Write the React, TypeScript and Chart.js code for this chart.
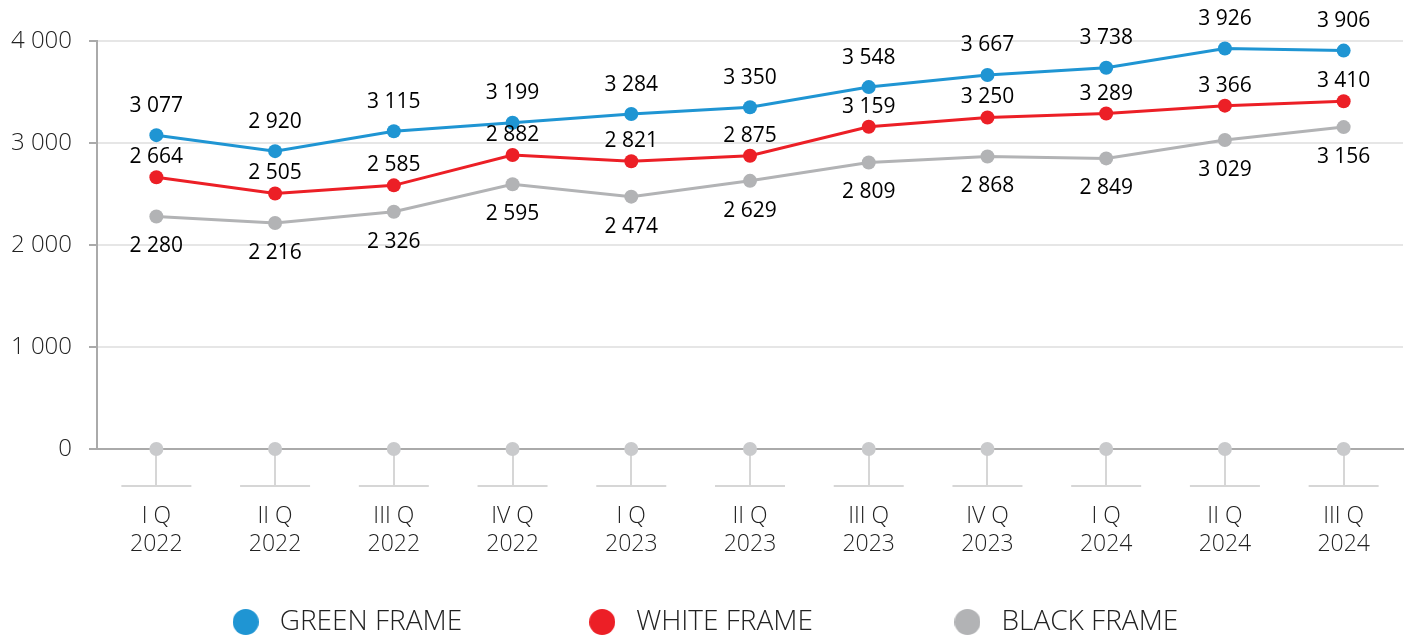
import React, { useEffect, useRef } from 'react';
import { Chart, registerables } from 'chart.js';

Chart.register(...registerables);

const quarterLabels: string[][] = [
  ['I Q', '2022'], ['II Q', '2022'], ['III Q', '2022'], ['IV Q', '2022'],
  ['I Q', '2023'], ['II Q', '2023'], ['III Q', '2023'], ['IV Q', '2023'],
  ['I Q', '2024'], ['II Q', '2024'], ['III Q', '2024'],
];
const greenFrame = [3077, 2920, 3115, 3199, 3284, 3350, 3548, 3667, 3738, 3926, 3906];
const whiteFrame = [2664, 2505, 2585, 2882, 2821, 2875, 3159, 3250, 3289, 3366, 3410];
const blackFrame = [2280, 2216, 2326, 2595, 2474, 2629, 2809, 2868, 2849, 3029, 3156];
const baseline = [0, 0, 0, 0, 0, 0, 0, 0, 0, 0, 0];
const seriesNames = ['GREEN FRAME', 'WHITE FRAME', 'BLACK FRAME'];
const yMin = 0;
const yMax = 4000;
const yStep = 1000;

const colors = ['#1f95d3', '#ec1f26', '#b2b3b5'];
const baseDotColor = '#c9cacc';
const labelOffsets = [-29.5, -20, 30];
const FONT = "'Open Sans', 'Noto Sans', sans-serif";
const LEGEND_FONT_SIZE = 28;
const LEGEND_PADDING = 40;
const LEGEND_BOX = 40;
const LEGEND_STEPS = [358, 366];

const fmt = (v: number) => String(v).replace(/\B(?=(\d{3})+(?!\d))/g, ' ');

function circleImage(color: string, d: number) {
  const c = document.createElement('canvas');
  c.width = d;
  c.height = d;
  const ctx = c.getContext('2d')!;
  ctx.fillStyle = color;
  ctx.beginPath();
  ctx.arc(d / 2, d / 2, d / 2, 0, Math.PI * 2);
  ctx.fill();
  return c;
}

const stemPlugin = {
  id: 'stems',
  afterDraw(chart: any) {
    const { ctx, chartArea, scales } = chart;
    const x = scales.x;
    const y0 = chartArea.bottom + 37;
    ctx.save();
    ctx.strokeStyle = '#d6d6d6';
    ctx.lineWidth = 2;
    for (let i = 0; i < quarterLabels.length; i++) {
      const px = x.getPixelForValue(i);
      ctx.beginPath();
      ctx.moveTo(px - 35, y0);
      ctx.lineTo(px + 35, y0);
      ctx.stroke();
    }
    ctx.restore();
  },
};

const valueLabelPlugin = {
  id: 'valueLabels',
  afterDatasetsDraw(chart: any) {
    const { ctx } = chart;
    ctx.save();
    ctx.font = `400 21px ${FONT}`;
    ctx.fillStyle = '#000';
    ctx.textAlign = 'center';
    ctx.textBaseline = 'middle';
    for (let d = 0; d < 3; d++) {
      const meta = chart.getDatasetMeta(d);
      const data = chart.data.datasets[d].data as number[];
      meta.data.forEach((pt: any, i: number) => {
        ctx.fillText(fmt(data[i]), pt.x, pt.y + labelOffsets[d]);
      });
    }
    ctx.restore();
  },
};

export default function App() {
  const ref = useRef<HTMLCanvasElement>(null);

  useEffect(() => {
    if (!ref.current) return;
    const series = [greenFrame, whiteFrame, blackFrame];
    const chart = new Chart(ref.current, {
      type: 'line',
      data: {
        labels: quarterLabels,
        datasets: [
          ...series.map((s, i) => ({
            label: seriesNames[i],
            data: s,
            borderColor: colors[i],
            backgroundColor: colors[i],
            pointBackgroundColor: colors[i],
            pointBorderWidth: 0,
            borderWidth: 3,
            pointRadius: 7,
            tension: 0,
            clip: false as any,
          })),
          {
            label: 'base',
            data: baseline,
            showLine: false,
            borderColor: baseDotColor,
            backgroundColor: baseDotColor,
            pointBackgroundColor: baseDotColor,
            pointBorderWidth: 0,
            pointRadius: 7,
            clip: false as any,
          },
        ],
      },
      options: {
        responsive: false,
        animation: false,
        layout: { padding: { top: 41, right: 6, left: 0, bottom: 0 } },
        events: [],
        scales: {
          x: {
            offset: true,
            grid: {
              display: true,
              drawOnChartArea: false,
              drawTicks: true,
              tickLength: 37,
              color: '#d6d6d6',
              lineWidth: 2,
            },
            border: { display: true, color: '#aaaaaa', width: 2 },
            ticks: {
              padding: 16,
              color: '#222',
              font: { family: FONT, size: 23, weight: '300' as any, lineHeight: 28 / 23 },
              maxRotation: 0,
              minRotation: 0,
              autoSkip: false,
            },
            afterFit(scale: any) {
              scale.height = 119;
            },
          },
          y: {
            min: yMin,
            max: yMax,
            grid: {
              color: '#e6e6e6',
              lineWidth: 2,
              tickColor: '#aaaaaa',
              tickLength: 8,
            },
            border: { display: true, color: '#aaaaaa', width: 2 },
            ticks: {
              stepSize: yStep,
              padding: 17,
              color: '#222',
              font: { family: FONT, size: 24, weight: '300' as any },
              callback: (v: any) => fmt(Number(v)),
            },
            afterFit(scale: any) {
              scale.width = 97;
            },
          },
        },
        plugins: {
          tooltip: { enabled: false },
          legend: {
            position: 'bottom',
            labels: {
              usePointStyle: true,
              pointStyleWidth: LEGEND_BOX,
              padding: LEGEND_PADDING,
              color: '#222',
              font: { family: FONT, size: LEGEND_FONT_SIZE, weight: '300' as any },
              generateLabels: (c: any) => {
                const ctx = c.ctx;
                ctx.save();
                ctx.font = `300 ${LEGEND_FONT_SIZE}px ${FONT}`;
                const sp = ctx.measureText('\u00a0').width || 7;
                const texts = seriesNames.map((name, i) => {
                  if (i >= LEGEND_STEPS.length) return name;
                  const target = LEGEND_STEPS[i] - LEGEND_BOX - LEGEND_FONT_SIZE / 2 - LEGEND_PADDING;
                  const n = Math.max(0, Math.round((target - ctx.measureText(name).width) / sp));
                  return name + '\u00a0'.repeat(n);
                });
                ctx.restore();
                return seriesNames.map((_, i) => ({
                  text: texts[i],
                  fillStyle: colors[i],
                  strokeStyle: colors[i],
                  lineWidth: 0,
                  pointStyle: circleImage(colors[i], 26) as any,
                  hidden: false,
                  datasetIndex: i,
                  fontColor: '#222',
                }));
              },
            },
          },
        },
      },
      plugins: [stemPlugin, valueLabelPlugin],
    });
    return () => chart.destroy();
  }, []);

  return (
    <div style={{ position: 'fixed', left: 0, top: 0, width: 1410, height: 646, background: '#fff' }}>
      <canvas ref={ref} width={1410} height={646} style={{ display: 'block', width: 1410, height: 646 }} />
    </div>
  );
}
